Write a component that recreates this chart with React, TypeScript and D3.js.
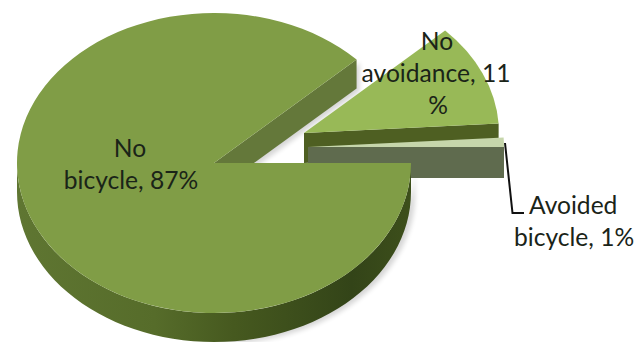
import React from "react";
import * as d3 from "d3";

// Share of trips in each category, in the order the pie runs clockwise.
const categories = ["No bicycle", "No avoidance", "Avoided bicycle"];
const shares = [87, 11, 1];

const WIDTH = 637;
const HEIGHT = 342;
const RX = 197;
const RY = 150;
const DEPTH = 29;
const SQUASH = RY / RX;

const slices = d3
  .pie<number>()
  .sort(null)
  .startAngle(Math.PI / 2)
  .endAngle(Math.PI / 2 + 2 * Math.PI)(shares);

const looks = [
  { cx: 214, cy: 163, depth: DEPTH, rx: RX, top: "#809d46", wall: "#64783a" },
  { cx: 304, cy: 133, depth: 30, rx: 195, top: "#98b957", wall: "#4e5f22" },
  { cx: 308, cy: 147, depth: 31, rx: 196, top: "#c6d6ab", wall: "#5f6b4e" },
];

const rimPoint = (cx: number, cy: number, rx: number, a: number): [number, number] => [
  cx + rx * Math.sin(a),
  cy - rx * SQUASH * Math.cos(a),
];

function face(i: number) {
  const s = slices[i];
  return d3.arc()({
    innerRadius: 0,
    outerRadius: looks[i].rx,
    startAngle: s.startAngle,
    endAngle: s.endAngle,
  }) as string;
}

// Flat cut wall dropping from the straight edge between the centre and a rim point.
function cutWall(i: number, a: number) {
  const { cx, cy, rx, depth } = looks[i];
  const p = rimPoint(cx, cy, rx, a);
  return d3.line()([
    [cx, cy],
    p,
    [p[0], p[1] + depth],
    [cx, cy + depth],
  ]) + "Z";
}

// Curved outer wall between two clock angles.
function outerWall(i: number, a0: number, a1: number) {
  const { cx, cy, rx, depth } = looks[i];
  const steps = d3.range(0, 61).map((k) => a0 + ((a1 - a0) * k) / 60);
  return d3
    .area<number>()
    .x((a) => rimPoint(cx, cy, rx, a)[0])
    .y0((a) => rimPoint(cx, cy, rx, a)[1])
    .y1((a) => rimPoint(cx, cy, rx, a)[1] + depth)(steps) as string;
}

const ink = "#1a2418";
const labelStyle: React.CSSProperties = {
  fontFamily: "Lato, 'Open Sans', sans-serif",
  fontSize: 24.6,
  fill: ink,
};

export default function App() {
  const [main, rest, small] = looks;
  return (
    <svg
      width={WIDTH}
      height={HEIGHT}
      viewBox={`0 0 ${WIDTH} ${HEIGHT}`}
      style={{ position: "absolute", left: 0, top: 0, background: "#fff" }}
    >
      <defs>
        <linearGradient id="mainWall" x1="0" x2="1" y1="0" y2="0">
          <stop offset="0" stopColor="#5f7632" />
          <stop offset="0.35" stopColor="#566c2a" />
          <stop offset="0.55" stopColor="#46591f" />
          <stop offset="0.85" stopColor="#334418" />
          <stop offset="1" stopColor="#3d4f1b" />
        </linearGradient>
        <filter id="soft" x="-10%" y="-10%" width="120%" height="120%">
          <feGaussianBlur stdDeviation="2.5" />
        </filter>
      </defs>

      {/* Faint shadows beside the raised slices */}
      <g filter="url(#soft)" fill="#000" opacity={0.16}>
        <path d={cutWall(0, slices[0].endAngle)} transform="translate(3,3)" />
        <path d={outerWall(0, Math.PI / 2, Math.PI)} transform="translate(4,2)" />
      </g>

      {/* No avoidance */}
      <path d={cutWall(1, slices[1].endAngle)} fill={rest.wall} />
      <path
        d={face(1)}
        transform={`translate(${rest.cx},${rest.cy}) scale(1,${SQUASH})`}
        fill={rest.top}
      />

      {/* Avoided bicycle */}
      <path d={cutWall(2, slices[2].endAngle)} fill={small.wall} />
      <path
        d={face(2)}
        transform={`translate(${small.cx},${small.cy}) scale(1,${SQUASH})`}
        fill={small.top}
      />

      {/* No bicycle */}
      <path d={cutWall(0, slices[0].endAngle)} fill={main.wall} />
      <path d={outerWall(0, Math.PI / 2, (3 * Math.PI) / 2)} fill="url(#mainWall)" />
      <path
        d={face(0)}
        transform={`translate(${main.cx},${main.cy}) scale(1,${SQUASH})`}
        fill={main.top}
      />

      {/* Leader for the smallest slice */}
      <path d="M505,143L512.5,213L524,213" fill="none" stroke="#111" strokeWidth={2} />

      <g style={labelStyle}>
        <text x={130} y={157} textAnchor="middle">No</text>
        <text x={131} y={189} textAnchor="middle">{categories[0].split(" ")[1]}, {shares[0]}%</text>
        <text x={437} y={50} textAnchor="middle">No</text>
        <text x={436} y={82} textAnchor="middle">{categories[1].split(" ")[1]}, {shares[1]}</text>
        <text x={438} y={114} textAnchor="middle">%</text>
        <text x={529} y={214}>{categories[2].split(" ")[0]}</text>
        <text x={514} y={246}>{categories[2].split(" ")[1]}, {shares[2]}%</text>
      </g>
    </svg>
  );
}
